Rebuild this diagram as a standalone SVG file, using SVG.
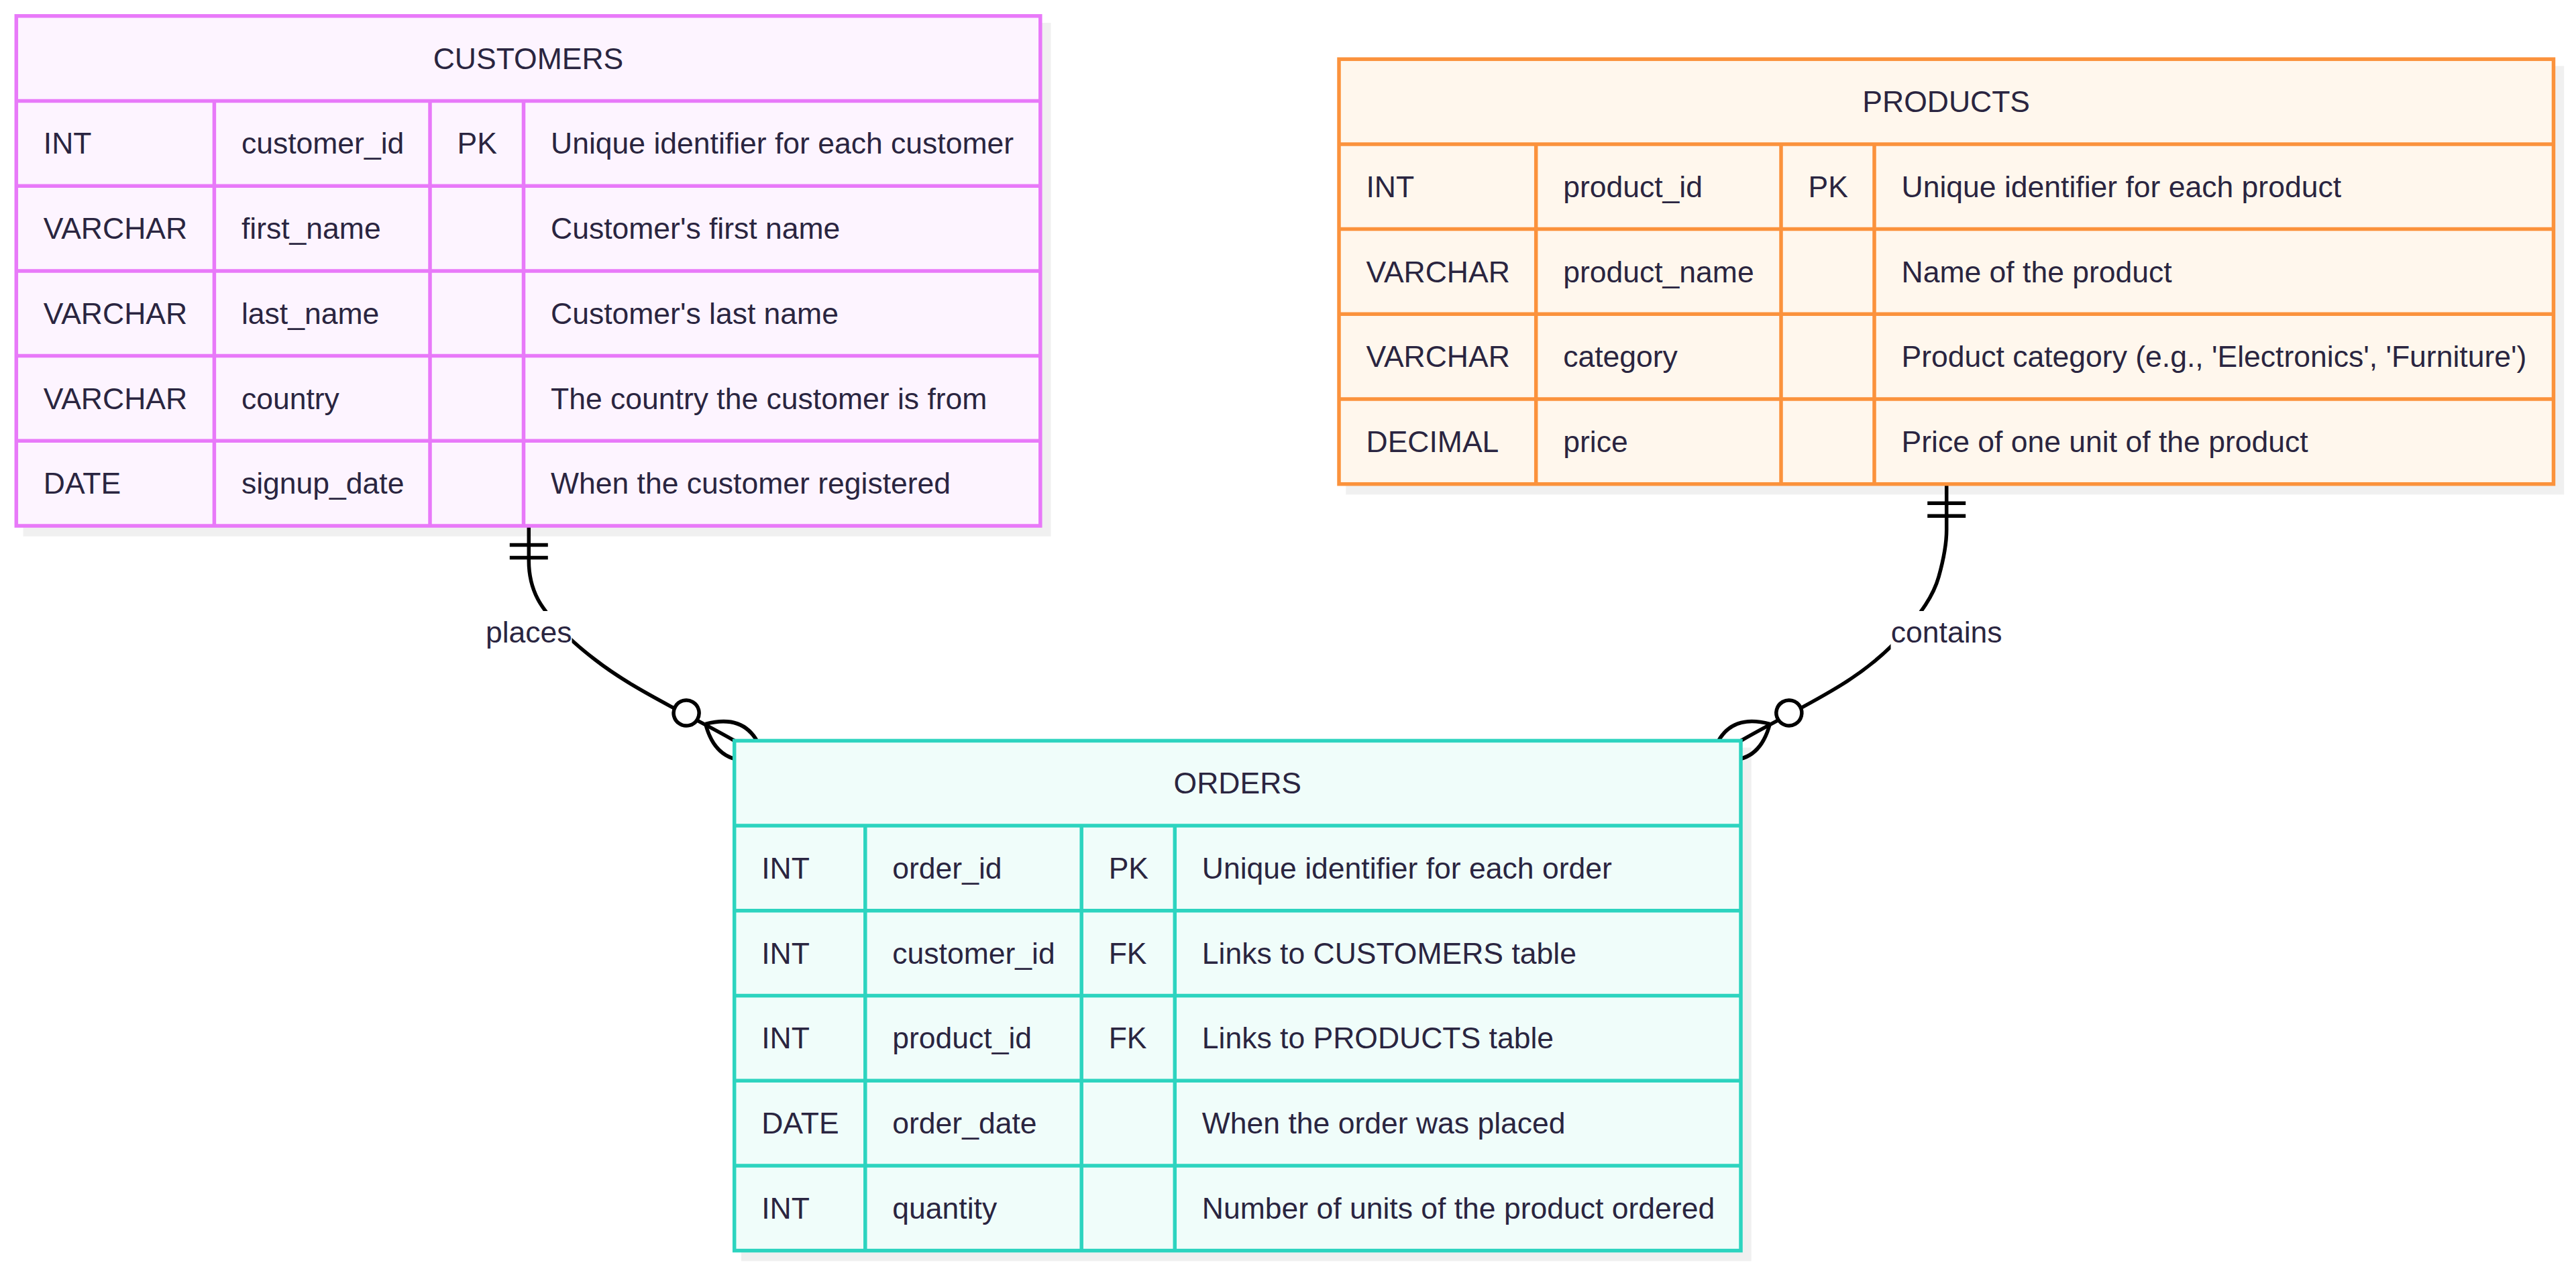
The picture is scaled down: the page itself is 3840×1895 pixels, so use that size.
<svg xmlns="http://www.w3.org/2000/svg" width="3840" height="1895" viewBox="0 0 3840 1895">
<style>
  text { font-family: "Liberation Sans", Arial, sans-serif; font-size: 44.5px; fill: #2a2540; }
  .mid { text-anchor: middle; }
  .rel { fill: none; stroke: #000; stroke-width: 5.5; }
  .mk { fill: none; stroke: #000; stroke-width: 5.5; }
  .shadow { fill: #000; fill-opacity: 0.06; }
  .lblbg { fill: #fff; }
  #node-customers .box { fill: #fdf4ff; stroke: #e879f9; stroke-width: 5.5; }
  #node-customers line { stroke: #e879f9; stroke-width: 5.5; }
  #node-products .box { fill: #fff7ed; stroke: #fb923c; stroke-width: 5.5; }
  #node-products line { stroke: #fb923c; stroke-width: 5.5; }
  #node-orders .box { fill: #f0fdfa; stroke: #2dd4bf; stroke-width: 5.5; }
  #node-orders line { stroke: #2dd4bf; stroke-width: 5.5; }
</style>
<defs>
  <marker id="only-one" markerUnits="userSpaceOnUse" orient="auto" markerWidth="60" markerHeight="64" refX="0" refY="32" overflow="visible">
    <path class="mk" d="M28.5,3.5 L28.5,60.5 M47.5,3.5 L47.5,60.5"/>
  </marker>
  <marker id="zero-or-more" markerUnits="userSpaceOnUse" orient="auto" markerWidth="220" markerHeight="120" refX="110" refY="60" overflow="visible">
    <circle cx="27" cy="60" r="19" fill="#fff" stroke="#000" stroke-width="5.5"/>
    <path class="mk" d="M60,60 Q110,10 160,60 Q110,110 60,60"/>
  </marker>
</defs>
<rect x="0" y="0" width="3840" height="1895" fill="#fff"/>

<g id="connectors">
  <path id="edge-places" class="rel" marker-start="url(#only-one)" marker-end="url(#zero-or-more)" d="M788.3,784 L788.3,836 C788.3,855.6 792.6,875.9 801.7,893.3 C809.5,908.3 820.8,921.3 832,934 C848.2,952.4 867.3,968.3 886.7,983.3 C921.8,1010.6 960.9,1032.3 1000,1053.3 C1031.7,1070.4 1063.8,1086.5 1095,1104.5"/>
  <path id="edge-contains" class="rel" marker-start="url(#only-one)" marker-end="url(#zero-or-more)" d="M2901.7,721.7 L2901.7,790 C2901.7,813.7 2896.4,837.2 2890,860 C2881.7,889.7 2861.8,915.4 2842,939 C2815.1,970.9 2782.1,997.9 2746.7,1020 C2697.3,1050.9 2645.5,1075.3 2595,1104.5"/>
  <g id="label-places">
    <rect class="lblbg" x="724" y="911" width="128.5" height="62"/>
    <text class="mid" x="788.3" y="958.3">places</text>
  </g>
  <g id="label-contains">
    <rect class="lblbg" x="2818.5" y="911" width="166" height="62"/>
    <text class="mid" x="2901.7" y="958.3">contains</text>
  </g>
</g>

<g id="node-customers">
  <rect class="shadow" x="34.55" y="34.05" width="1532" height="765.7"/>
  <rect class="box" x="24.3" y="23.8" width="1526.5" height="760.2"/>
  <line x1="24.3" y1="150.5" x2="1550.8" y2="150.5"/>
  <line x1="24.3" y1="277.2" x2="1550.8" y2="277.2"/>
  <line x1="24.3" y1="403.9" x2="1550.8" y2="403.9"/>
  <line x1="24.3" y1="530.6" x2="1550.8" y2="530.6"/>
  <line x1="24.3" y1="657.3" x2="1550.8" y2="657.3"/>
  <line x1="319.4" y1="150.5" x2="319.4" y2="784"/>
  <line x1="641" y1="150.5" x2="641" y2="784"/>
  <line x1="780.5" y1="150.5" x2="780.5" y2="784"/>
  <text class="mid" x="787.5" y="102.6">CUSTOMERS</text>
  <text x="64.8" y="229.4">INT</text>
  <text x="359.9" y="229.4">customer_id</text>
  <text x="681.5" y="229.4">PK</text>
  <text x="821" y="229.4">Unique identifier for each customer</text>
  <text x="64.8" y="356.1">VARCHAR</text>
  <text x="359.9" y="356.1">first_name</text>
  <text x="821" y="356.1">Customer's first name</text>
  <text x="64.8" y="482.8">VARCHAR</text>
  <text x="359.9" y="482.8">last_name</text>
  <text x="821" y="482.8">Customer's last name</text>
  <text x="64.8" y="609.5">VARCHAR</text>
  <text x="359.9" y="609.5">country</text>
  <text x="821" y="609.5">The country the customer is from</text>
  <text x="64.8" y="736.2">DATE</text>
  <text x="359.9" y="736.2">signup_date</text>
  <text x="821" y="736.2">When the customer registered</text>
</g>

<g id="node-products">
  <rect class="shadow" x="2006.25" y="98.45" width="1816" height="639"/>
  <rect class="box" x="1996" y="88.2" width="1810.5" height="633.5"/>
  <line x1="1996" y1="214.9" x2="3806.5" y2="214.9"/>
  <line x1="1996" y1="341.6" x2="3806.5" y2="341.6"/>
  <line x1="1996" y1="468.3" x2="3806.5" y2="468.3"/>
  <line x1="1996" y1="595" x2="3806.5" y2="595"/>
  <line x1="2289.7" y1="214.9" x2="2289.7" y2="721.7"/>
  <line x1="2655" y1="214.9" x2="2655" y2="721.7"/>
  <line x1="2794" y1="214.9" x2="2794" y2="721.7"/>
  <text class="mid" x="2901.2" y="167.1">PRODUCTS</text>
  <text x="2036.5" y="293.8">INT</text>
  <text x="2330.2" y="293.8">product_id</text>
  <text x="2695.5" y="293.8">PK</text>
  <text x="2834.5" y="293.8">Unique identifier for each product</text>
  <text x="2036.5" y="420.5">VARCHAR</text>
  <text x="2330.2" y="420.5">product_name</text>
  <text x="2834.5" y="420.5">Name of the product</text>
  <text x="2036.5" y="547.2">VARCHAR</text>
  <text x="2330.2" y="547.2">category</text>
  <text x="2834.5" y="547.2">Product category (e.g., 'Electronics', 'Furniture')</text>
  <text x="2036.5" y="673.9">DECIMAL</text>
  <text x="2330.2" y="673.9">price</text>
  <text x="2834.5" y="673.9">Price of one unit of the product</text>
</g>

<g id="node-orders">
  <rect class="shadow" x="1104.95" y="1114.65" width="1505.8" height="765.7"/>
  <rect class="box" x="1094.7" y="1104.4" width="1500.3" height="760.2"/>
  <line x1="1094.7" y1="1231.1" x2="2595" y2="1231.1"/>
  <line x1="1094.7" y1="1357.8" x2="2595" y2="1357.8"/>
  <line x1="1094.7" y1="1484.5" x2="2595" y2="1484.5"/>
  <line x1="1094.7" y1="1611.2" x2="2595" y2="1611.2"/>
  <line x1="1094.7" y1="1737.9" x2="2595" y2="1737.9"/>
  <line x1="1289.8" y1="1231.1" x2="1289.8" y2="1864.6"/>
  <line x1="1612.2" y1="1231.1" x2="1612.2" y2="1864.6"/>
  <line x1="1751.3" y1="1231.1" x2="1751.3" y2="1864.6"/>
  <text class="mid" x="1844.8" y="1183.3">ORDERS</text>
  <text x="1135.2" y="1310">INT</text>
  <text x="1330.3" y="1310">order_id</text>
  <text x="1652.7" y="1310">PK</text>
  <text x="1791.8" y="1310">Unique identifier for each order</text>
  <text x="1135.2" y="1436.7">INT</text>
  <text x="1330.3" y="1436.7">customer_id</text>
  <text x="1652.7" y="1436.7">FK</text>
  <text x="1791.8" y="1436.7">Links to CUSTOMERS table</text>
  <text x="1135.2" y="1563.4">INT</text>
  <text x="1330.3" y="1563.4">product_id</text>
  <text x="1652.7" y="1563.4">FK</text>
  <text x="1791.8" y="1563.4">Links to PRODUCTS table</text>
  <text x="1135.2" y="1690.1">DATE</text>
  <text x="1330.3" y="1690.1">order_date</text>
  <text x="1791.8" y="1690.1">When the order was placed</text>
  <text x="1135.2" y="1816.8">INT</text>
  <text x="1330.3" y="1816.8">quantity</text>
  <text x="1791.8" y="1816.8">Number of units of the product ordered</text>
</g>
</svg>
